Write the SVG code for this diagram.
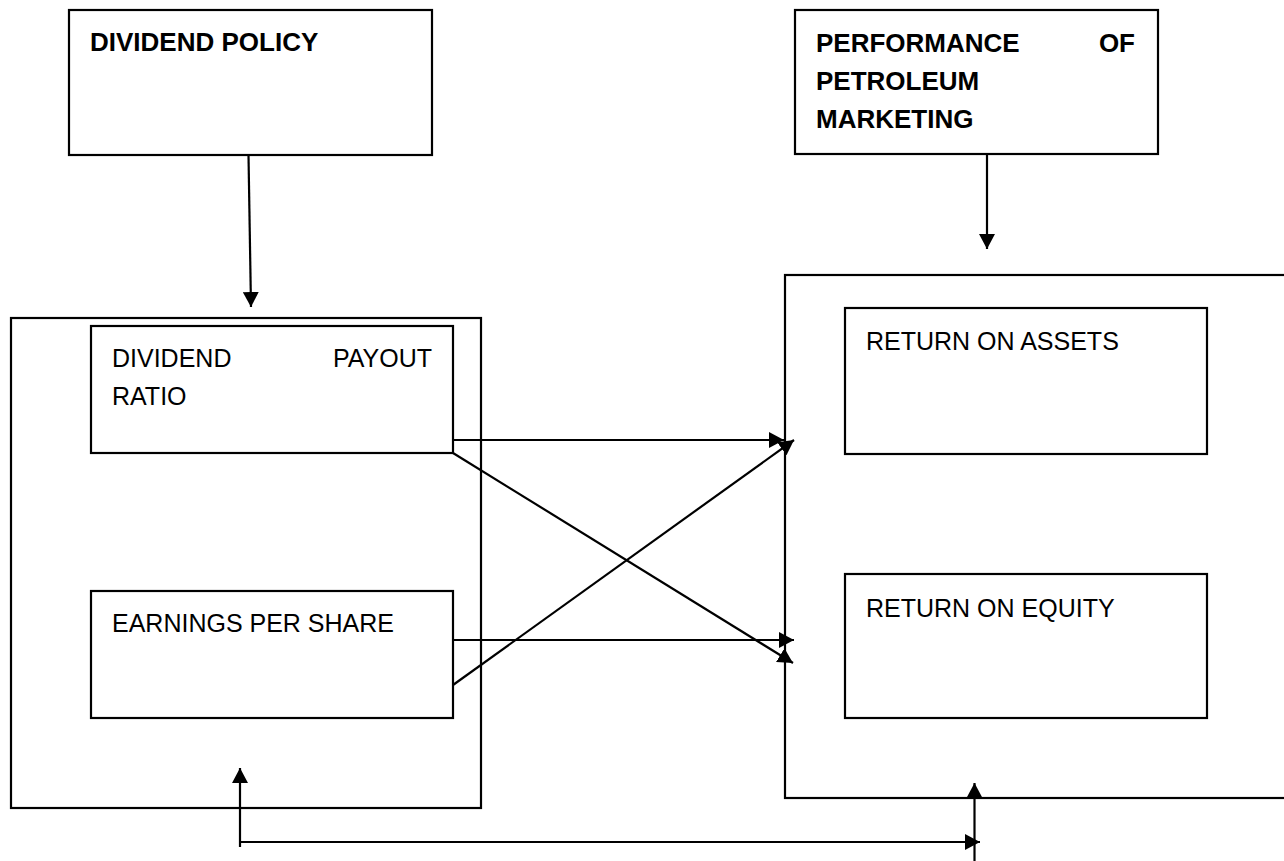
<svg xmlns="http://www.w3.org/2000/svg" width="1284" height="861" viewBox="0 0 1284 861">
<style>
.box{fill:none;stroke:#000;stroke-width:2.2}
.t{font-family:"Liberation Sans",Arial,sans-serif;font-size:25px;fill:#000}
.b{font-family:"Liberation Sans",Arial,sans-serif;font-size:26px;font-weight:bold;fill:#000}
.c{fill:none;stroke:#000;stroke-width:2.2}
</style>
<defs>
<marker id="ah" markerUnits="userSpaceOnUse" markerWidth="16" markerHeight="16" refX="15" refY="8" orient="auto">
<path d="M0,0 L15,8 L0,16 z" fill="#000"/>
</marker>
</defs>
<rect width="1284" height="861" fill="#fff"/>
<g id="dividend-policy">
<rect class="box" x="69" y="10" width="363" height="145"/>
<text class="b" x="90" y="51">DIVIDEND POLICY</text>
</g>
<g id="performance">
<rect class="box" x="795" y="10" width="363" height="144"/>
<text class="b" x="816" y="52">PERFORMANCE</text>
<text class="b" x="1135" y="52" text-anchor="end">OF</text>
<text class="b" x="816" y="90">PETROLEUM</text>
<text class="b" x="816" y="128">MARKETING</text>
</g>
<g id="dividend-group">
<rect class="box" x="11" y="318" width="470" height="490"/>
</g>
<g id="payout-ratio">
<rect class="box" x="91" y="326" width="362" height="127"/>
<text class="t" x="112" y="367">DIVIDEND</text>
<text class="t" x="432" y="367" text-anchor="end">PAYOUT</text>
<text class="t" x="112" y="405">RATIO</text>
</g>
<g id="eps">
<rect class="box" x="91" y="591" width="362" height="127"/>
<text class="t" x="112" y="632">EARNINGS PER SHARE</text>
</g>
<g id="performance-group">
<rect class="box" x="785" y="275" width="530" height="523"/>
</g>
<g id="roa">
<rect class="box" x="845" y="308" width="362" height="146"/>
<text class="t" x="866" y="350">RETURN ON ASSETS</text>
</g>
<g id="roe">
<rect class="box" x="845" y="574" width="362" height="144"/>
<text class="t" x="866" y="617">RETURN ON EQUITY</text>
</g>
<g id="connectors">
<line class="c" x1="248.5" y1="155" x2="251" y2="307" marker-end="url(#ah)"/>
<line class="c" x1="987" y1="154" x2="987" y2="249" marker-end="url(#ah)"/>
<line class="c" x1="453" y1="440" x2="784" y2="440" marker-end="url(#ah)"/>
<line class="c" x1="453" y1="685" x2="794" y2="440" marker-end="url(#ah)"/>
<line class="c" x1="453" y1="453" x2="793" y2="663" marker-end="url(#ah)"/>
<line class="c" x1="453" y1="640" x2="794" y2="640" marker-end="url(#ah)"/>
<line class="c" x1="240" y1="847" x2="240" y2="768" marker-end="url(#ah)"/>
<line class="c" x1="240" y1="842" x2="980" y2="842" marker-end="url(#ah)"/>
<line class="c" x1="974.5" y1="861" x2="974.5" y2="783" marker-end="url(#ah)"/>
</g>
</svg>
